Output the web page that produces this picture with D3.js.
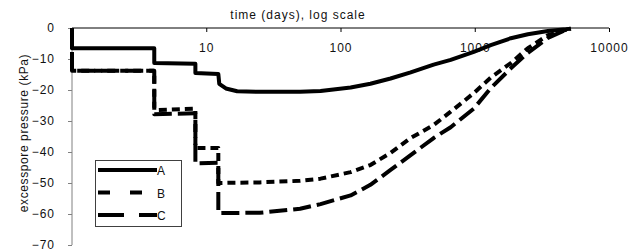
<!DOCTYPE html>
<html>
<head>
<meta charset="utf-8">
<script src="https://cdn.jsdelivr.net/npm/d3@7"></script>
<style>
  body { margin: 0; background: #fff; }
  svg { font-family: "Liberation Sans", Arial, sans-serif; }
  svg text { font-size: 12px; letter-spacing: 1px; fill: #111; }
  svg text.ylabel { letter-spacing: 0.6px; }
</style>
</head>
<body>
<svg id="myChart" width="641" height="252"></svg>
<script>
// Series data: time in days, excess pore pressure in kPa
const timeA = [1, 1, 4.1, 4.1, 8.3, 8.3, 12.3, 12.5, 14, 17, 25, 50, 71, 119, 167, 236, 333, 494, 662, 984, 1316, 1857, 2487, 3508, 4780, 5200];
const pressureA = [0, -6.5, -6.5, -11.3, -11.5, -14.5, -14.8, -18, -19.5, -20.4, -20.6, -20.6, -20.3, -19.2, -18, -16.3, -14.3, -11.8, -10.3, -7.7, -5.5, -3.3, -2, -1, -0.4, -0.2];

const timeB = [1, 1, 4.1, 4.1, 8.3, 8.3, 12.3, 12.3, 25, 50, 71, 119, 167, 236, 333, 494, 662, 984, 1316, 1857, 2487, 3508, 4780, 5200];
const pressureB = [0, -13.8, -13.8, -26.5, -26, -38.7, -38.7, -50, -49.8, -49.3, -48.6, -46.5, -44.2, -40.3, -35.5, -31.3, -27, -21, -16, -11.3, -6.5, -2.3, -0.6, -0.2];

const timeC = [1, 1, 4.1, 4.1, 8.3, 8.3, 12.3, 12.3, 25, 50, 71, 119, 167, 236, 333, 494, 662, 984, 1316, 1857, 2487, 3508, 4780, 5200];
const pressureC = [0, -13.8, -13.8, -27.8, -27.5, -43.7, -43.5, -59.7, -59.6, -58.3, -56.8, -54, -50.6, -45.8, -41, -35.5, -32, -26, -19.4, -13, -8, -3.2, -0.6, -0.2];

const seriesNames = ['A', 'B', 'C'];
const xTicks = [1, 10, 100, 1000, 10000];
const yTicks = [0, -10, -20, -30, -40, -50, -60, -70];

const svg = d3.select('#myChart');

// plot area
const plotLeft = 72, plotRight = 609, plotTop = 28, plotBottom = 245;

const xScale = d3.scaleLog()
  .domain([1, 10000])
  .range([plotLeft, plotRight]);

const yScale = d3.scaleLinear()
  .domain([0, -70])
  .range([plotTop, plotBottom]);

// line styles per series
const dashes = { A: null, B: '8,5', C: '18,6' };
const legendDashes = { A: null, B: '12,20', C: '26,15' };

const series = [
  { name: 'A', t: timeA, p: pressureA },
  { name: 'B', t: timeB, p: pressureB },
  { name: 'C', t: timeC, p: pressureC }
];

// y axis on the left
const yAxis = svg.append('g')
  .attr('class', 'axis axis-y')
  .attr('transform', `translate(${plotLeft},0)`)
  .call(d3.axisLeft(yScale).tickValues(yTicks).tickSize(4).tickPadding(13).tickFormat(d3.format('d')));
yAxis.attr('font-size', null).attr('font-family', null);
yAxis.select('.domain').attr('stroke', '#808080').attr('d', `M0,${plotTop}V${plotBottom}`);
yAxis.selectAll('.tick line').attr('stroke', '#808080');

// x axis along the top, ticks pointing down
const xAxis = svg.append('g')
  .attr('class', 'axis axis-x')
  .attr('transform', `translate(0,${plotTop})`)
  .call(d3.axisBottom(xScale).tickValues(xTicks).tickSize(4).tickPadding(11).tickFormat(d3.format('d')));
xAxis.attr('font-size', null).attr('font-family', null);
xAxis.select('.domain').attr('stroke', '#000').attr('d', `M${plotLeft},0H${plotRight}`);
xAxis.selectAll('.tick line').attr('stroke', '#000');
xAxis.selectAll('.tick').filter(d => d === 1).select('text').remove();

// axis titles
svg.append('text')
  .attr('x', 298)
  .attr('y', 19)
  .attr('text-anchor', 'middle')
  .text('time (days), log scale');

svg.append('text')
  .attr('class', 'ylabel')
  .attr('transform', 'translate(28,133) rotate(-90)')
  .attr('text-anchor', 'middle')
  .text('excesspore pressure (kPa)');

// the curves
const line = d3.line()
  .x(d => xScale(d[0]))
  .y(d => yScale(d[1]));

svg.append('g')
  .attr('class', 'curves')
  .selectAll('path')
  .data(series.slice().reverse())
  .enter()
  .append('path')
    .attr('d', s => line(s.t.map((t, i) => [t, s.p[i]])))
    .attr('fill', 'none')
    .attr('stroke', '#000')
    .attr('stroke-width', 4)
    .attr('stroke-linejoin', 'round')
    .attr('stroke-dasharray', s => dashes[s.name]);

// legend
const legend = svg.append('g').attr('class', 'legend');
legend.append('rect')
  .attr('x', 95.5).attr('y', 160.5)
  .attr('width', 86).attr('height', 66)
  .attr('fill', '#fff')
  .attr('stroke', '#404040');

const rows = legend.selectAll('.row')
  .data(seriesNames)
  .enter()
  .append('g')
  .attr('class', 'row')
  .attr('transform', (d, i) => `translate(0,${170 + i * 22.5})`);

rows.append('line')
  .attr('x1', 98).attr('x2', 157)
  .attr('stroke', '#000')
  .attr('stroke-width', 4)
  .attr('stroke-dasharray', d => legendDashes[d]);

rows.append('text')
  .attr('x', 157)
  .attr('y', 5)
  .text(d => d);
</script>
</body>
</html>
